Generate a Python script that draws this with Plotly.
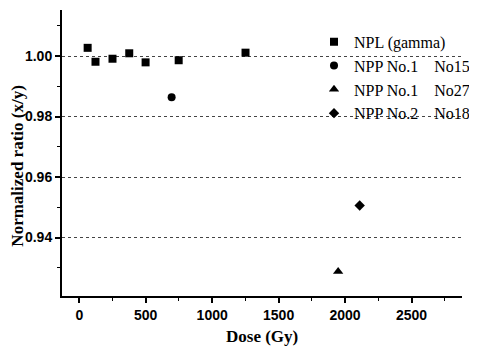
import plotly.graph_objects as go

# Data
npl_dose = [63, 122, 250, 376, 499, 748, 1251]
npl_ratio = [1.0027, 0.9981, 0.9991, 1.0009, 0.9979, 0.9986, 1.0011]
npp1_15_dose = [695]
npp1_15_ratio = [0.9864]
npp1_27_dose = [1948]
npp1_27_ratio = [0.9288]
npp2_18_dose = [2110]
npp2_18_ratio = [0.9506]

series = [
    ("NPL (gamma)", npl_dose, npl_ratio, "square", 8),
    ("NPP No.1\u00a0\u00a0\u00a0 No15", npp1_15_dose, npp1_15_ratio, "circle", 8),
    ("NPP No.1\u00a0\u00a0\u00a0 No27", npp1_27_dose, npp1_27_ratio, "triangle-up", 9),
    ("NPP No.2\u00a0\u00a0\u00a0 No18", npp2_18_dose, npp2_18_ratio, "diamond", 8),
]

x_ticks = [0, 500, 1000, 1500, 2000, 2500]
y_ticks = [0.94, 0.96, 0.98, 1.00]

fig = go.Figure()
for name, xs, ys, sym, sz in series:
    fig.add_trace(go.Scatter(x=xs, y=ys, mode="markers", name=name,
                             marker=dict(symbol=sym, size=sz, color="black")))

tickfont = dict(family="Liberation Sans", size=14, color="black", weight=700)
titlefont = dict(family="Liberation Serif", size=17, color="black", weight=700)

# page has an 8px body margin, so the figure is sized/offset to compensate
fig.update_layout(
    width=469, height=339,
    margin=dict(l=54, r=12, t=2, b=51),
    paper_bgcolor="white", plot_bgcolor="white",
    showlegend=True,
    legend=dict(x=0.63, y=0.948, xanchor="left", yanchor="top",
                font=dict(family="Liberation Serif", size=16, color="black"),
                bgcolor="rgba(0,0,0,0)", tracegroupgap=0, itemwidth=30),
    xaxis=dict(range=[-130, 2880], tickvals=x_ticks, ticktext=[str(v) for v in x_ticks],
               showgrid=False, zeroline=False, showline=True, linecolor="black", linewidth=2,
               ticks="outside", ticklen=5, tickwidth=1.5, tickcolor="black", tickfont=tickfont,
               minor=dict(dtick=250, tick0=0, ticks="outside", ticklen=3, tickwidth=1, tickcolor="black", showgrid=False)),
    yaxis=dict(range=[0.9207, 1.0152], tickvals=y_ticks, ticktext=["0.94", "0.96", "0.98", "1.00"],
               showgrid=True, gridcolor="#444", griddash="dot", gridwidth=1,
               zeroline=False, showline=True, linecolor="black", linewidth=2,
               ticks="outside", ticklen=5, tickwidth=1.5, tickcolor="black", tickfont=tickfont,
               minor=dict(dtick=0.01, tick0=0.93, ticks="outside", ticklen=3, tickwidth=1, tickcolor="black", showgrid=False)),
    annotations=[
        dict(text="Dose (Gy)", xref="paper", yref="paper", x=0.5, y=-0.143, xanchor="center",
             yanchor="middle", showarrow=False, font=titlefont),
        dict(text="Normalized ratio (x/y)", xref="paper", yref="paper", x=-0.112, y=0.453,
             xanchor="center", yanchor="middle", textangle=-90, showarrow=False, font=titlefont),
    ],
)

fig.write_html("out.html")
